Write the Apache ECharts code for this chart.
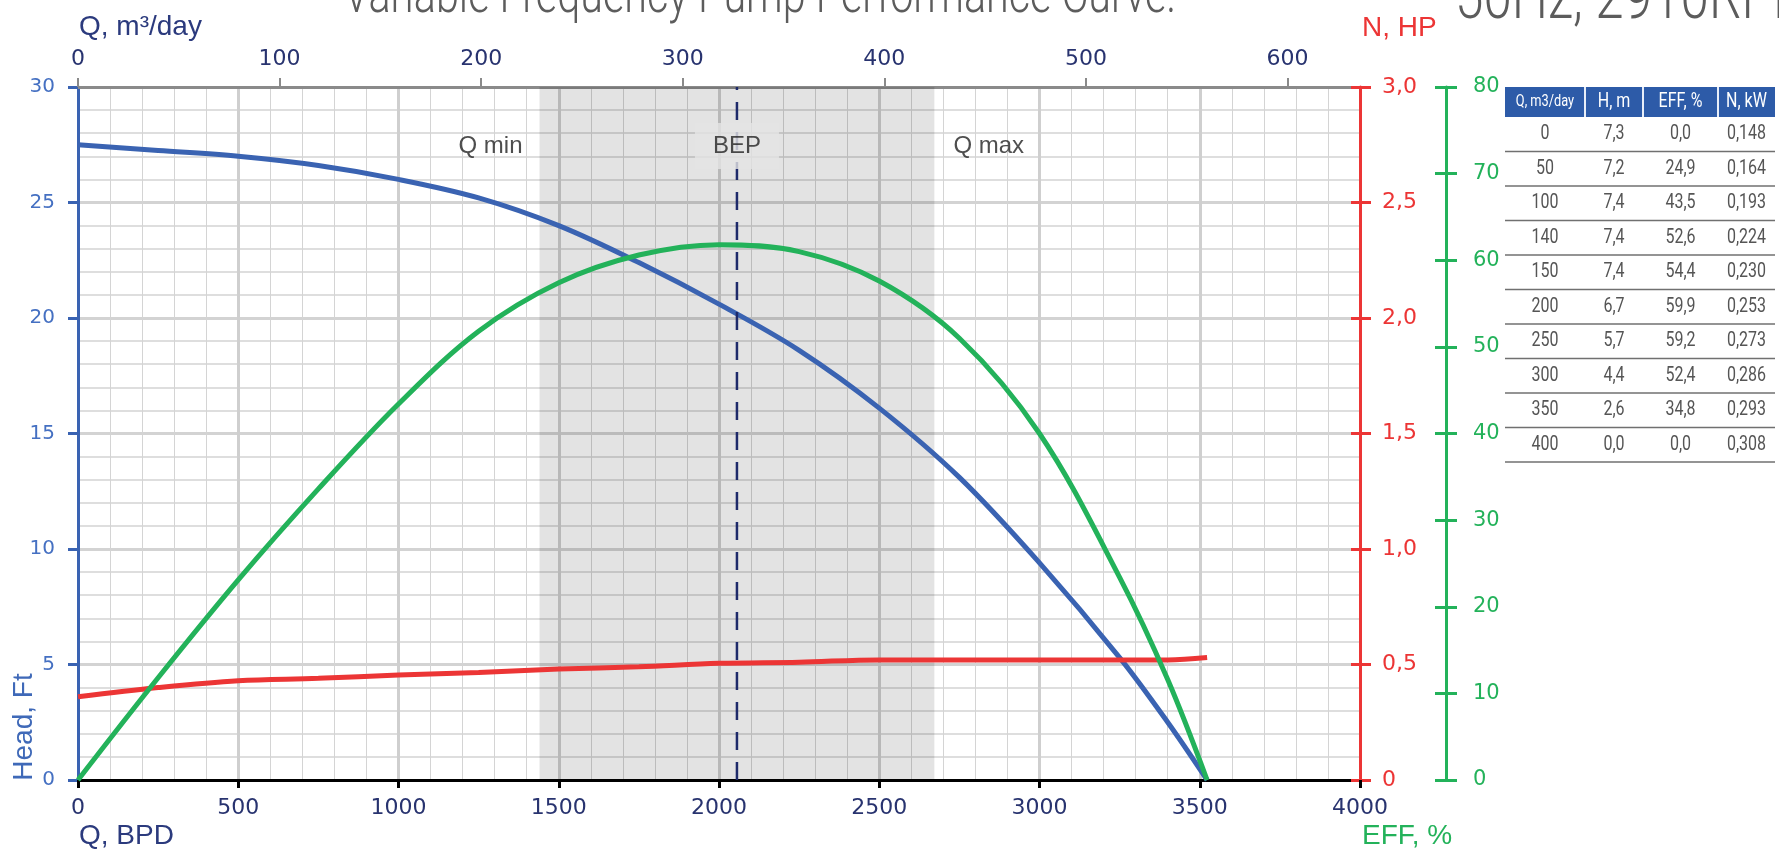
<!DOCTYPE html>
<html>
<head>
<meta charset="utf-8">
<title>Variable Frequency Pump Performance Curve</title>
<script src="https://cdn.jsdelivr.net/npm/echarts@6.0.0/dist/echarts.min.js"></script>
<style>
  html, body { margin: 0; padding: 0; background: #fff; }
  #chart { width: 1779px; height: 853px; }
</style>
</head>
<body>
<div id="chart"></div>
<script>
// flow points, BPD
var flowBpd = [0, 250, 500, 750, 1000, 1250, 1500, 1750, 2000, 2250, 2500, 2750, 3000, 3250, 3400, 3523];
// head, ft
var headFt = [27.5, 27.25, 27.0, 26.6, 26.0, 25.2, 24.0, 22.4, 20.6, 18.6, 16.1, 13.1, 9.4, 5.3, 2.5, 0];
// efficiency, %
var effPct = [0, 11.8, 23.1, 33.6, 43.4, 51.8, 57.4, 60.6, 61.8, 61.0, 57.6, 51.0, 40.0, 23.4, 11.6, 0];
// power, HP
var powerHp = [0.36, 0.40, 0.43, 0.44, 0.455, 0.465, 0.48, 0.49, 0.505, 0.51, 0.52, 0.52, 0.52, 0.52, 0.52, 0.53];

var qMin = 1440;
var qMax = 2672;
var bepQ = 2056;

var bpdPerM3 = 6.2898;
var topTicks = [0, 100, 200, 300, 400, 500, 600];

// table on the right
var tableHeaders = ['Q, m3/day', 'H, m', 'EFF, %', 'N, kW'];
var tableQ = ['0', '50', '100', '140', '150', '200', '250', '300', '350', '400'];
var tableH = ['7,3', '7,2', '7,4', '7,4', '7,4', '6,7', '5,7', '4,4', '2,6', '0,0'];
var tableEff = ['0,0', '24,9', '43,5', '52,6', '54,4', '59,9', '59,2', '52,4', '34,8', '0,0'];
var tableN = ['0,148', '0,164', '0,193', '0,224', '0,230', '0,253', '0,273', '0,286', '0,293', '0,308'];

var NAVY = '#28336f';
var BLUE = '#3a63b2';
var RED = '#ec3535';
var GREEN = '#23b25a';
var tickFont = 'DejaVu Sans';
var nameFont = 'Liberation Sans';
var condFont = 'Roboto, sans-serif';

function pairs(ys) {
  return flowBpd.map(function (x, i) { return [x, ys[i]]; });
}

function commaFmt(v) {
  return v === 0 ? '0' : v.toFixed(1).replace('.', ',');
}

function plain(v) {
  return String(Math.round(v));
}

// narrow text: Roboto squeezed horizontally
function condText(x, y, text, size, fill, align, weight, sx) {
  return {
    type: 'text', x: x, y: y, scaleX: sx || 0.8,
    style: { text: text, fill: fill, font: (weight || 'normal') + ' ' + size + 'px ' + condFont, align: align || 'center', verticalAlign: 'middle' }
  };
}

// table graphics
function buildTable() {
  var colX = [1505, 1585, 1643, 1718];
  var colW = [80, 58, 75, 57];
  var top = 87, headH = 30, rowH = 34.5;
  var right = colX[3] + colW[3];
  var els = [];
  els.push({ type: 'rect', shape: { x: colX[0], y: top, width: right - colX[0], height: headH }, style: { fill: '#2d5ba8' } });
  for (var c = 1; c < colX.length; c++) {
    els.push({ type: 'line', shape: { x1: colX[c], y1: top, x2: colX[c], y2: top + headH }, style: { stroke: '#e8eef8', lineWidth: 2 } });
  }
  for (c = 0; c < tableHeaders.length; c++) {
    els.push(condText(colX[c] + colW[c] / 2, top + headH / 2, tableHeaders[c], c === 0 ? 16 : 20, '#fff'));
  }
  var cols = [tableQ, tableH, tableEff, tableN];
  for (var r = 0; r < tableQ.length; r++) {
    var y0 = top + headH + r * rowH;
    for (c = 0; c < cols.length; c++) {
      els.push(condText(colX[c] + colW[c] / 2, y0 + rowH / 2, cols[c][r], 20, '#555'));
    }
    els.push({ type: 'line', shape: { x1: colX[0], y1: y0 + rowH, x2: right, y2: y0 + rowH }, style: { stroke: '#707070', lineWidth: 1.5 } });
  }
  return els;
}

var chart = echarts.init(document.getElementById('chart'));

var gridBox = { left: 78, right: 419, top: 87, bottom: 73 };

var option = {
  animation: false,
  backgroundColor: '#fff',
  grid: [
    Object.assign({}, gridBox),
    Object.assign({}, gridBox),
    Object.assign({}, gridBox)
  ],
  xAxis: [
    {
      type: 'value', gridIndex: 0, position: 'bottom', min: 0, max: 4000, interval: 500,
      axisLine: { show: true, onZero: false, lineStyle: { color: '#000', width: 3 } },
      axisTick: { show: true, length: 8, lineStyle: { color: '#000', width: 3 } },
      axisLabel: { color: NAVY, fontFamily: tickFont, fontSize: 22, margin: 17, formatter: plain },
      splitLine: { show: true, lineStyle: { color: '#cfcfcf', width: 3 } },
      minorTick: { show: false, splitNumber: 5 },
      minorSplitLine: { show: true, lineStyle: { color: '#d4d4d4', width: 1 } }
    },
    {
      type: 'value', gridIndex: 0, position: 'top', min: 0, max: 4000 / bpdPerM3,
      axisLine: { show: true, onZero: false, lineStyle: { color: '#8a8a8a', width: 3 } },
      axisTick: { show: true, length: 9, customValues: topTicks, lineStyle: { color: '#8a8a8a', width: 2 } },
      axisLabel: { color: NAVY, fontFamily: tickFont, fontSize: 22, margin: 17, customValues: topTicks, formatter: plain },
      splitLine: { show: false }
    },
    { type: 'value', gridIndex: 1, min: 0, max: 4000, show: false },
    { type: 'value', gridIndex: 2, min: 0, max: 4000, show: false }
  ],
  yAxis: [
    {
      type: 'value', gridIndex: 0, position: 'left', min: 0, max: 30, interval: 5,
      axisLine: { show: true, onZero: false, lineStyle: { color: BLUE, width: 3 } },
      axisTick: { show: true, length: 10, lineStyle: { color: BLUE, width: 3 } },
      axisLabel: { color: '#4570c2', fontFamily: tickFont, fontSize: 20, margin: 23 },
      splitLine: { show: true, lineStyle: { color: '#d3d3d3', width: 3 } },
      minorTick: { show: false, splitNumber: 5 },
      minorSplitLine: { show: true, lineStyle: { color: '#dedede', width: 2 } }
    },
    {
      type: 'value', gridIndex: 0, position: 'right', min: 0, max: 3, interval: 0.5,
      axisLine: { show: true, onZero: false, lineStyle: { color: RED, width: 3 } },
      axisTick: { show: true, length: 11, lineStyle: { color: RED, width: 3 } },
      axisLabel: { color: RED, fontFamily: tickFont, fontSize: 22, margin: 22, formatter: commaFmt },
      splitLine: { show: false }
    },
    {
      type: 'value', gridIndex: 0, position: 'right', offset: 86, min: 0, max: 80, interval: 10,
      axisLine: { show: true, onZero: false, lineStyle: { color: GREEN, width: 3 } },
      axisTick: { show: true, length: 11, lineStyle: { color: GREEN, width: 3 } },
      axisLabel: { color: GREEN, fontFamily: tickFont, fontSize: 21, margin: 27 },
      splitLine: { show: false }
    },
    // inner halves of the crossing ticks, on their own grids
    {
      type: 'value', gridIndex: 1, position: 'right', min: 0, max: 3, interval: 0.5,
      axisLine: { show: false, onZero: false }, axisLabel: { show: false }, splitLine: { show: false },
      axisTick: { show: true, inside: true, length: 9, lineStyle: { color: RED, width: 3 } }
    },
    {
      type: 'value', gridIndex: 2, position: 'right', offset: 86, min: 0, max: 80, interval: 10,
      axisLine: { show: false, onZero: false }, axisLabel: { show: false }, splitLine: { show: false },
      axisTick: { show: true, inside: true, length: 11, lineStyle: { color: GREEN, width: 3 } }
    }
  ],
  series: [
    {
      name: 'Head', type: 'line', xAxisIndex: 0, yAxisIndex: 0,
      data: pairs(headFt), smooth: 0.35, showSymbol: false,
      lineStyle: { color: BLUE, width: 5 },
      markArea: {
        silent: true,
        itemStyle: { color: 'rgba(0,0,0,0.11)' },
        data: [[{ xAxis: qMin }, { xAxis: qMax }]]
      }
    },
    {
      name: 'N', type: 'line', xAxisIndex: 0, yAxisIndex: 1,
      data: pairs(powerHp), smooth: 0.35, showSymbol: false,
      lineStyle: { color: RED, width: 5 }
    },
    {
      name: 'EFF', type: 'line', xAxisIndex: 0, yAxisIndex: 2,
      data: pairs(effPct), smooth: 0.35, showSymbol: false,
      lineStyle: { color: GREEN, width: 5 }
    },
    {
      name: 'BEP line', type: 'line', xAxisIndex: 0, yAxisIndex: 0, z: 3,
      data: [[bepQ, 0], [bepQ, 30]], showSymbol: false, silent: true,
      lineStyle: { color: '#1e2a6a', width: 2.5, type: [18, 12] }
    },
    {
      name: 'labels', type: 'scatter', xAxisIndex: 0, yAxisIndex: 0, z: 4, silent: true,
      data: [
        { value: [bepQ, 27.45], symbol: 'rect', symbolSize: [84, 46], itemStyle: { color: '#e4e4e4' },
          label: { show: true, position: 'inside', formatter: 'BEP' } },
        { value: [qMin, 27.45], symbolSize: 0,
          label: { show: true, position: 'left', distance: 17, formatter: 'Q min' } },
        { value: [qMax, 27.45], symbolSize: 0,
          label: { show: true, position: 'right', distance: 19, formatter: 'Q max' } }
      ],
      label: { color: '#222', fontFamily: nameFont, fontSize: 24 }
    }
  ],
  graphic: [
    condText(760, -2, 'Variable Frequency Pump Performance Curve.', 54, '#5c5c5c', 'center', 300, 0.765),
    condText(1455, 2, '50Hz, 2910RPM', 64, '#5c5c5c', 'left', 300, 0.8),
    { type: 'text', x: 79, y: 27, style: { text: 'Q, m³/day', fill: '#2b3a7d', font: '28px ' + nameFont, align: 'left', verticalAlign: 'middle' } },
    { type: 'text', x: 1362, y: 28, style: { text: 'N, HP', fill: RED, font: '28px ' + nameFont, align: 'left', verticalAlign: 'middle' } },
    { type: 'text', x: 79, y: 836, style: { text: 'Q, BPD', fill: '#2b3a7d', font: '28px ' + nameFont, align: 'left', verticalAlign: 'middle' } },
    { type: 'text', x: 1362, y: 836, style: { text: 'EFF, %', fill: GREEN, font: '28px ' + nameFont, align: 'left', verticalAlign: 'middle' } },
    { type: 'text', x: 24, y: 727, rotation: Math.PI / 2, style: { text: 'Head, Ft', fill: '#3f69b8', font: '28px ' + nameFont, align: 'center', verticalAlign: 'middle' } }
  ].concat(buildTable())
};

chart.setOption(option);
</script>
</body>
</html>
